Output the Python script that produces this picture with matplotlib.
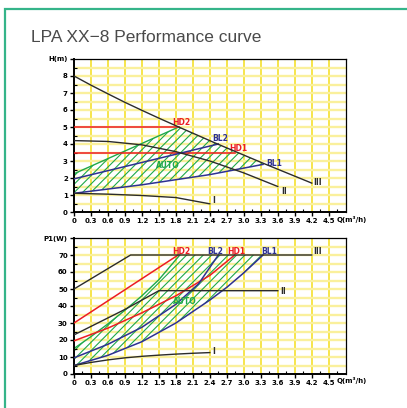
import matplotlib
matplotlib.use("Agg")
import matplotlib.pyplot as plt
import numpy as np
from matplotlib.patches import Rectangle, Polygon

# ---- head curves H(m) vs Q(m3/h) ----
h3_q = [0, 0.3, 0.6, 0.9, 1.2, 1.5, 1.85, 2.5, 3.34, 4.2]
h3_h = [8, 7.46, 6.95, 6.45, 5.98, 5.52, 5.0, 4.05, 2.87, 1.7]
h2_q = [0, 0.6, 1.2, 1.8, 2.4, 3.0, 3.6]
h2_h = [4.2, 4.15, 3.95, 3.55, 3.0, 2.3, 1.5]
h1_q = [0, 0.6, 1.2, 1.8, 2.4]
h1_h = [1.1, 1.05, 0.97, 0.85, 0.48]
hbl1_q = [0, 1.2, 2.4, 3.34]
hbl1_h = [1.1, 1.6, 2.2, 2.8]
hbl2_q = [0, 2.55]
hbl2_h = [1.95, 4.0]
hauto_q = [0, 1.85]
hauto_h = [2.25, 5.0]
hd2_q = [0, 1.85]
hd2_h = [5.0, 5.0]
hd1_q = [0, 2.84]
hd1_h = [3.5, 3.5]

# ---- power curves P1(W) vs Q(m3/h) ----
p3_q = [0, 1.0, 4.2]
p3_p = [50, 70, 70]
p2_q = [0, 0.3, 0.6, 0.9, 1.2, 1.5, 3.6]
p2_p = [23, 28, 33, 38, 43.5, 49, 49]
p1_q = [0, 0.3, 0.6, 0.9, 1.2, 1.5, 1.8, 2.1, 2.4]
p1_p = [5, 6.8, 8.3, 9.5, 10.4, 11.1, 11.7, 12.2, 12.6]
pd2_q = [0, 1.84]
pd2_p = [30, 70]
pd1_q = [0, 0.6, 1.2, 1.8, 2.4, 2.84]
pd1_p = [19.5, 27, 36, 46, 58, 70]
pbl1_q = [0, 0.6, 1.2, 1.8, 2.4, 2.7, 3.0, 3.34]
pbl1_p = [5, 11, 19, 30, 43.5, 51, 59.5, 70]
pbl2_q = [0, 0.6, 1.2, 1.8, 2.2, 2.55]
pbl2_p = [9.5, 17.5, 27.5, 41, 53, 70]
pauto_q = [0, 0.3, 0.6, 0.9, 1.2, 1.5, 1.87]
pauto_p = [15, 22, 29.5, 37.5, 46, 55.5, 70]

xticks = [0, 0.3, 0.6, 0.9, 1.2, 1.5, 1.8, 2.1, 2.4, 2.7, 3.0, 3.3, 3.6, 3.9, 4.2, 4.5]
xlabels = ["0", "0.3", "0.6", "0.9", "1.2", "1.5", "1.8", "2.1", "2.4", "2.7",
           "3.0", "3.3", "3.6", "3.9", "4.2", "4.5"]

BLACK = "#2b2b2b"
RED = "#ec1c24"
BLUE = "#2e3192"
GREEN = "#1fa84a"
TICKFONT = dict(family="Liberation Sans Narrow", size=5, weight="bold")
LBLFONT = dict(family="Liberation Sans Narrow", size=5.5, weight="bold")

plt.rcParams["hatch.linewidth"] = 0.8

fig = plt.figure(figsize=(4.07, 4.08), dpi=100)

# frame of the card
fig.patches.append(Rectangle((5 / 407, -0.1), 1.2, 1.1 - 9 / 408,
                             transform=fig.transFigure, fill=False,
                             edgecolor="#35b489", linewidth=1.6))
fig.text(31 / 407, 1 - 38 / 408, "LPA XX\u22128 Performance curve",
         fontsize=12.5, color="#4a4a4a", va="center", ha="left",
         family="Liberation Sans")


def setup(ax, ymax, ystep, ymajor, ylabel):
    ax.set_xlim(0, 4.8)
    ax.set_ylim(0, ymax)
    for x in np.arange(0.3, 4.8, 0.3):
        ax.axvline(x, color="#f5e02c", lw=1.2, zorder=0)
    for y in np.arange(ystep, ymax, ystep):
        ax.axhline(y, color="#faf09c", lw=1.7, zorder=0)
    ax.set_xticks(xticks)
    ax.set_xticklabels(xlabels, **TICKFONT)
    ax.set_xticks(np.arange(0.15, 4.8, 0.3), minor=True)
    ax.text(4.64, -0.025, "Q(m\u00b3/h)", transform=ax.get_xaxis_transform(),
            ha="left", va="top", **TICKFONT)
    yt = list(np.arange(0, ymax, ymajor))
    ax.set_yticks(yt + [ymax])
    ax.set_yticklabels([f"{int(v)}" for v in yt] + [ylabel], **TICKFONT)
    ax.set_yticks(np.arange(ystep, ymax, ystep), minor=True)
    ax.tick_params(which="major", direction="out", length=3, width=1, pad=1.5)
    ax.tick_params(which="minor", direction="in", length=2, width=0.8)
    for s in ["left", "bottom"]:
        ax.spines[s].set_linewidth(1.4)
    for s in ["top", "right"]:
        ax.spines[s].set_linewidth(0.9)


# ---------------- head chart ----------------
ax1 = fig.add_axes([74 / 407, 1 - 212 / 408, 271.7 / 407, 153 / 408])
setup(ax1, 9, 0.5, 1, "H(m)")

seg = [(q, h) for q, h in zip(h3_q, h3_h) if hauto_q[-1] < q < hbl1_q[-1]]
poly = list(zip(hauto_q, hauto_h)) + seg
poly += [(hbl1_q[-1], float(np.interp(hbl1_q[-1], h3_q, h3_h)))]
poly += list(zip(hbl1_q, hbl1_h))[::-1]
ax1.add_patch(Polygon(poly, closed=True, facecolor="none", edgecolor=GREEN,
                      hatch="////", lw=0, zorder=1))
ax1.plot(hauto_q, hauto_h, color=GREEN, lw=1.0, zorder=2)
ax1.plot(hd2_q, hd2_h, color=RED, lw=1.1, zorder=3)
ax1.plot(hd1_q, hd1_h, color=RED, lw=1.1, zorder=3)
ax1.plot(hbl1_q, hbl1_h, color=BLUE, lw=1.1, zorder=3)
ax1.plot(hbl2_q, hbl2_h, color=BLUE, lw=1.1, zorder=3)
ax1.plot(h3_q, h3_h, color=BLACK, lw=1.0, zorder=4)
ax1.plot(h2_q, h2_h, color=BLACK, lw=1.0, zorder=4)
ax1.plot(h1_q, h1_h, color=BLACK, lw=1.0, zorder=4)

ax1.text(1.9, 5.25, "HD2", color=RED, ha="center", va="center", **LBLFONT)
ax1.text(2.58, 4.3, "BL2", color=BLUE, ha="center", va="center", **LBLFONT)
ax1.text(2.9, 3.75, "HD1", color=RED, ha="center", va="center", **LBLFONT)
ax1.text(3.4, 2.88, "BL1", color=BLUE, ha="left", va="center", **LBLFONT)
ax1.text(4.22, 1.72, "III", color=BLACK, ha="left", va="center", **LBLFONT)
ax1.text(3.66, 1.2, "II", color=BLACK, ha="left", va="center", **LBLFONT)
ax1.text(2.45, 0.7, "I", color=BLACK, ha="left", va="center", **LBLFONT)
ax1.text(1.65, 2.75, "AUTO", color=GREEN, ha="center", va="center", **LBLFONT)

# ---------------- power chart ----------------
ax2 = fig.add_axes([74 / 407, 34 / 408, 271.7 / 407, 136 / 408])
setup(ax2, 80, 5, 10, "P1(W)")

poly = list(zip(pauto_q, pauto_p)) + list(zip(pbl1_q, pbl1_p))[::-1]
ax2.add_patch(Polygon(poly, closed=True, facecolor="none", edgecolor=GREEN,
                      hatch="////", lw=0, zorder=1))
ax2.plot(pauto_q, pauto_p, color=GREEN, lw=1.0, zorder=2)
ax2.plot(pd2_q, pd2_p, color=RED, lw=1.1, zorder=3)
ax2.plot(pd1_q, pd1_p, color=RED, lw=1.1, zorder=3)
ax2.plot(pbl1_q, pbl1_p, color=BLUE, lw=1.1, zorder=3)
ax2.plot(pbl2_q, pbl2_p, color=BLUE, lw=1.1, zorder=3)
ax2.plot(p3_q, p3_p, color=BLACK, lw=1.0, zorder=4)
ax2.plot(p2_q, p2_p, color=BLACK, lw=1.0, zorder=4)
ax2.plot(p1_q, p1_p, color=BLACK, lw=1.0, zorder=4)

ax2.text(1.9, 72.3, "HD2", color=RED, ha="center", va="center", **LBLFONT)
ax2.text(2.49, 72.3, "BL2", color=BLUE, ha="center", va="center", **LBLFONT)
ax2.text(2.87, 72.3, "HD1", color=RED, ha="center", va="center", **LBLFONT)
ax2.text(3.45, 72.3, "BL1", color=BLUE, ha="center", va="center", **LBLFONT)
ax2.text(4.22, 72, "III", color=BLACK, ha="left", va="center", **LBLFONT)
ax2.text(3.65, 48.5, "II", color=BLACK, ha="left", va="center", **LBLFONT)
ax2.text(2.45, 13, "I", color=BLACK, ha="left", va="center", **LBLFONT)
ax2.text(1.95, 42.5, "AUTO", color=GREEN, ha="center", va="center", **LBLFONT)

fig.savefig("out.png", dpi=100)
